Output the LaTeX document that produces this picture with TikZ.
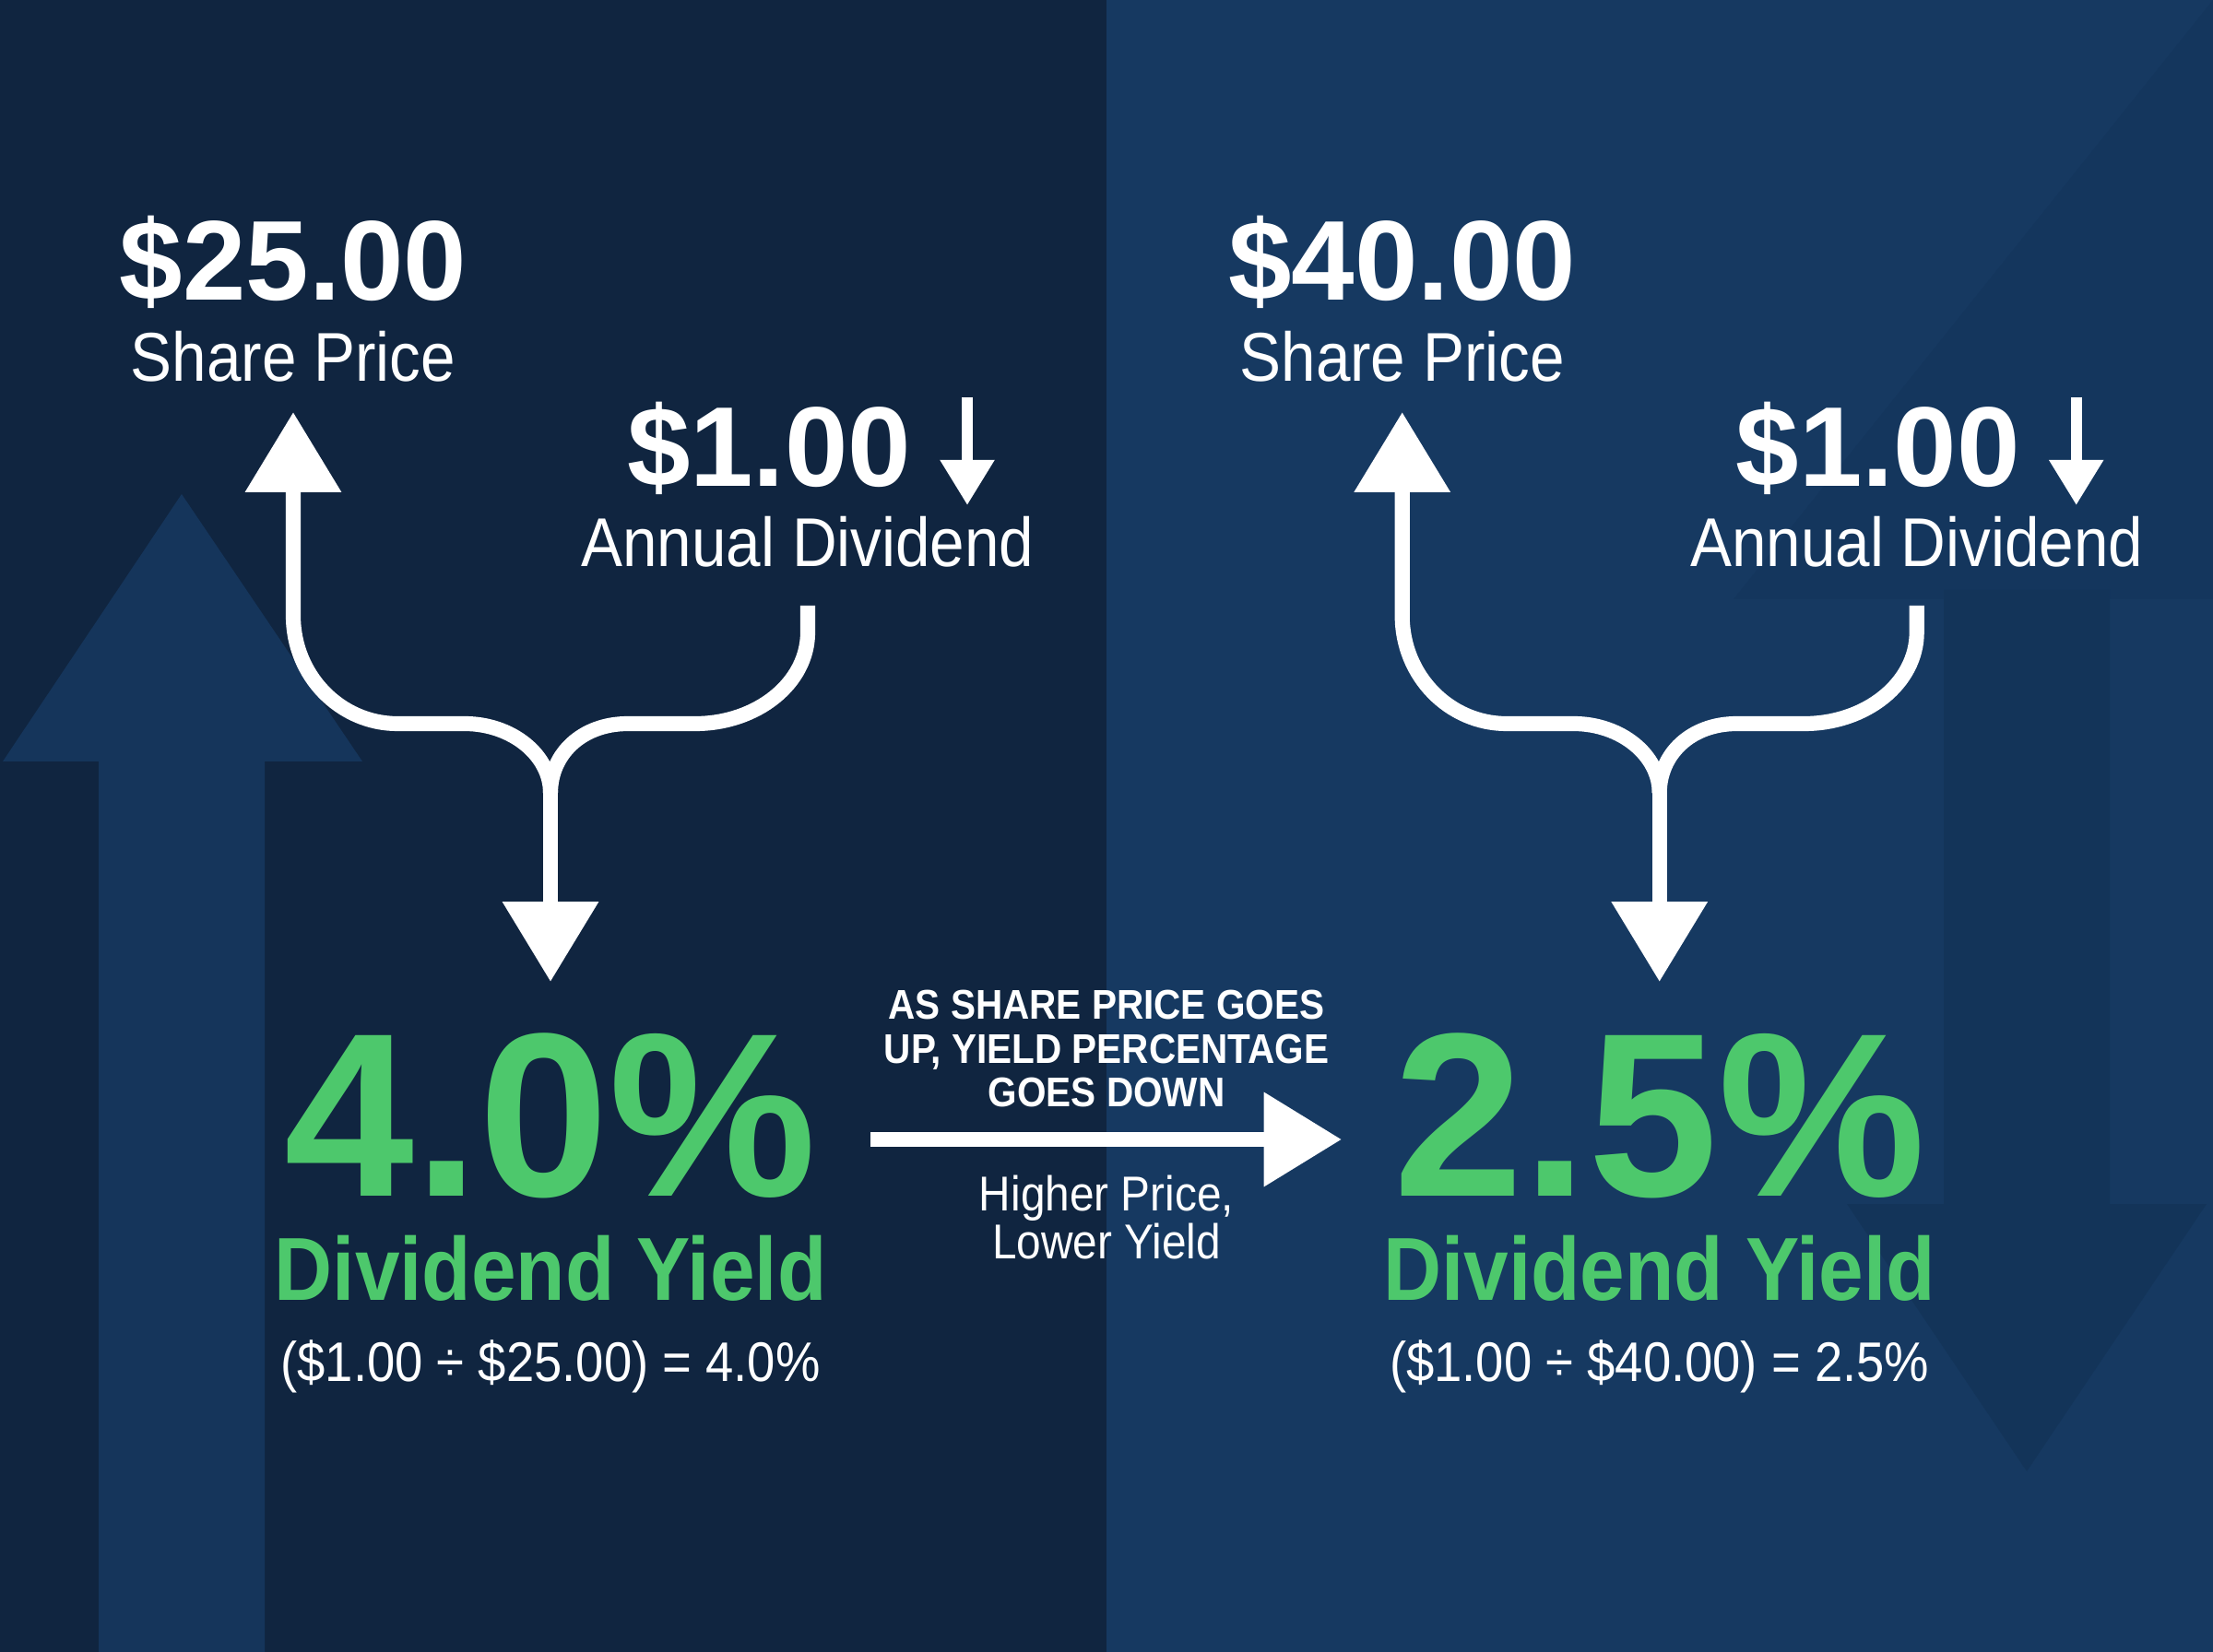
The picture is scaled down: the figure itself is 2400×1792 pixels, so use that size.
\documentclass[tikz,border=0pt]{standalone}
\usepackage{fontspec}
\setmainfont{Liberation Sans}
\newfontfamily\condf{Liberation Sans}[FakeStretch=0.9]
\usetikzlibrary{arrows.meta}
\definecolor{bgL}{HTML}{102540}
\definecolor{bgR}{HTML}{163961}
\definecolor{decoL}{HTML}{15355B}
\definecolor{decoR}{HTML}{133459}
\definecolor{decoRtop}{HTML}{14365D}
\definecolor{yieldgreen}{HTML}{4DC86C}
\tikzset{
  conn/.style={draw=white, line width=4.6pt},
  bigtip/.style={-{Triangle[width=28.5pt,length=24.7pt]}},
  smalltip/.style={-{Triangle[width=16pt,length=14pt]}},
  txt/.style={text=white, inner sep=0pt, anchor=base},
  pricetxt/.style={txt, font=\fontsize{35pt}{40pt}\selectfont\bfseries},
  labeltxt/.style={txt, font=\condf\fontsize{21.3pt}{25pt}\selectfont},
  pcttxt/.style={txt, text=yieldgreen, text depth=0pt, font=\fontsize{72pt}{80pt}\selectfont\bfseries},
  dytxt/.style={txt, text=yieldgreen, text height=20.5pt, font=\condf\fontsize{27.6pt}{32pt}\selectfont\bfseries},
  formtxt/.style={txt, font=\condf\fontsize{17.2pt}{20pt}\selectfont},
  captxt/.style={txt, font=\condf\fontsize{12.8pt}{15pt}\selectfont\bfseries},
  subtxt/.style={txt, font=\condf\fontsize{15.1pt}{18pt}\selectfont},
}
\newcommand\yieldpanel[4]{%
  \node[pricetxt] (#1price) at (318,326) {\$#2};
  \node[labeltxt] (#1sp) at (318,414) {Share Price};
  \node[pricetxt] (#1div) at (834,528) {\$1.00};
  \coordinate (#1dtop) at (1049,431);
  \coordinate (#1dtip) at (1049,548);
  \draw[draw=white, line width=3.3pt, smalltip] (#1dtop) -- (#1dtip);
  \node[labeltxt] (#1ad) at (876,615) {Annual Dividend};
  \coordinate (#1spTip) at (318,447);
  \coordinate (#1adFoot) at (876,657);
  \coordinate (#1J) at (597,860);
  \coordinate (#1yTip) at (597,1065);
  \draw[conn, bigtip] (#1J) .. controls (597,819) and (555,785) .. (504,785)
     -- (431,785) .. controls (369,785) and (318,733) .. (318,668) -- (#1spTip);
  \draw[conn] (#1adFoot) -- (876,686) .. controls (876,741) and (821,785) .. (754,785)
     -- (681,785) .. controls (630,785) and (597,819) .. (#1J);
  \draw[conn, bigtip] (#1J) -- (#1yTip);
  \node[pcttxt] (#1pct) at (597,1297) {#3};
  \node[dytxt] (#1dy) at (597,1410) {Dividend Yield};
  \node[formtxt] (#1form) at (597,1498) {#4};
}
\begin{document}
\begin{tikzpicture}[x=0.01cm, y=-0.01cm]
\useasboundingbox (0,0) rectangle (2400,1792);
% background
\fill[bgL] (0,0) rectangle (1200,1792);
\fill[bgR] (1200,0) rectangle (2400,1792);
% decorative arrows
\fill[decoL] (197,536) -- (393,826) -- (287,826) -- (287,1792) -- (107,1792)
  -- (107,826) -- (3,826) -- cycle;
\fill[decoRtop] (2400,0) -- (1880,650) -- (2400,650) -- cycle;
\fill[decoR] (2108,640) -- (2108,1306) -- (2003,1306)
  -- (2198,1596) -- (2393,1306) -- (2288,1306) -- (2288,640) -- cycle;
% panels
\yieldpanel{L}{25.00}{4.0\%}{(\$1.00 ÷ \$25.00) = 4.0\%}
\begin{scope}[xshift=12.02cm]
\yieldpanel{R}{40.00}{2.5\%}{(\$1.00 ÷ \$40.00) = 2.5\%}
\end{scope}
% middle
\node[captxt] (cap1) at (1200,1105) {AS SHARE PRICE GOES};
\node[captxt] (cap2) at (1200,1153) {UP, YIELD PERCENTAGE};
\node[captxt] (cap3) at (1200,1200) {GOES DOWN};
\coordinate (mStart) at (944,1236);
\coordinate (mEnd) at (1455,1236);
\draw[conn, -{Triangle[width=28pt,length=24pt]}] (mStart) -- (mEnd);
\node[subtxt] (sub1) at (1200,1313) {Higher Price,};
\node[subtxt] (sub2) at (1200,1365) {Lower Yield};
\end{tikzpicture}
\end{document}
